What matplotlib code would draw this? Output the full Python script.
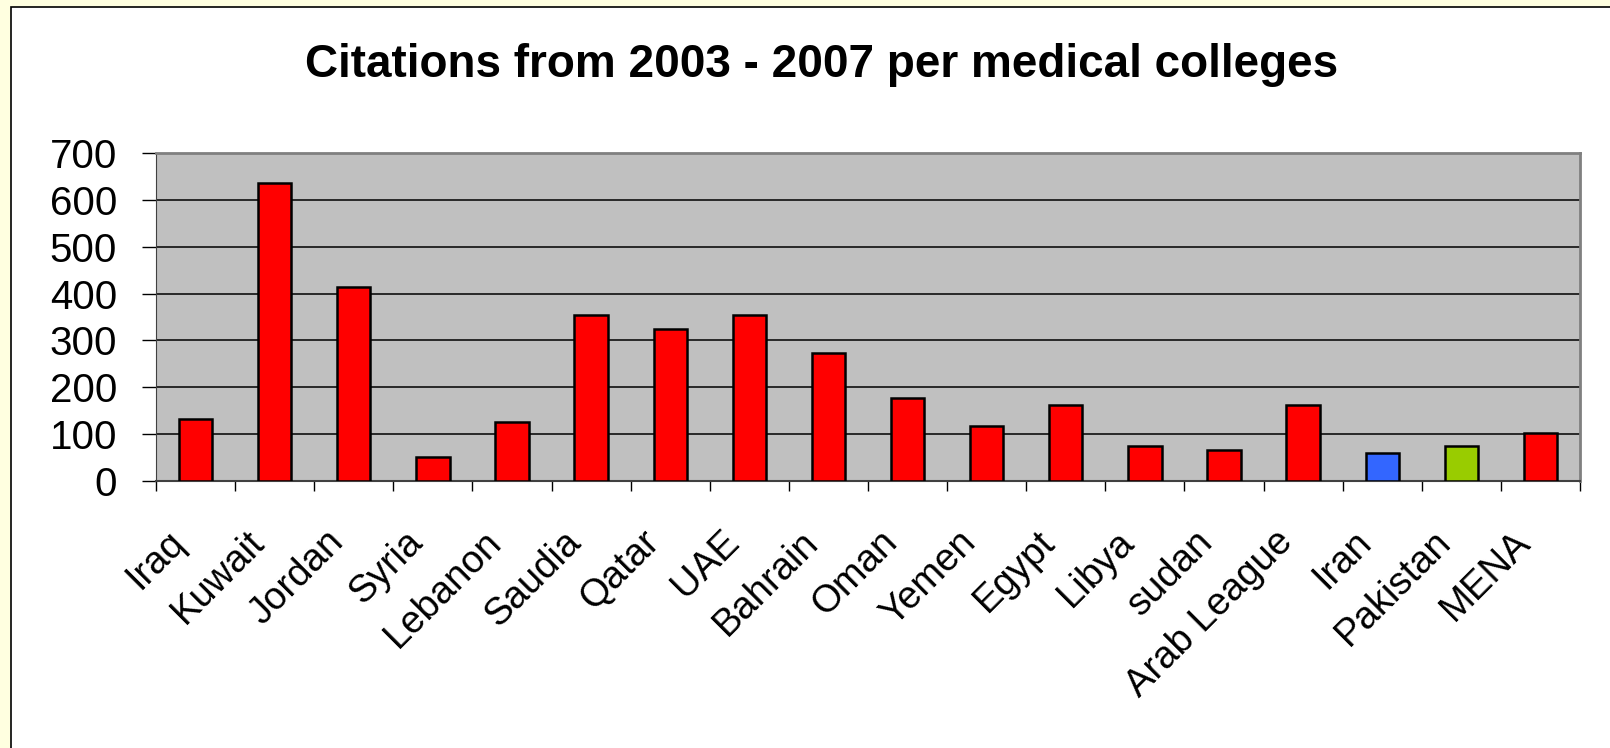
import numpy as np
import matplotlib
matplotlib.use('Agg')
import matplotlib.pyplot as plt
from matplotlib.patches import Rectangle
from matplotlib.transforms import ScaledTranslation

# data
countries = ['Iraq', 'Kuwait', 'Jordan', 'Syria', 'Lebanon', 'Saudia', 'Qatar', 'UAE',
             'Bahrain', 'Oman', 'Yemen', 'Egypt', 'Libya', 'sudan', 'Arab League',
             'Iran', 'Pakistan', 'MENA']
citations = [132, 635, 413, 52, 125, 355, 325, 355, 274, 178, 118, 163, 74, 66, 163, 59, 75, 103]
bar_colors = ['#FF0000'] * 15 + ['#3366FF', '#99CC00', '#FF0000']
yticks = [0, 100, 200, 300, 400, 500, 600, 700]

plt.rcParams['font.family'] = ['Liberation Sans', 'DejaVu Sans']

W, H = 1610, 748
fig = plt.figure(figsize=(W / 100, H / 100), dpi=100, facecolor='#FFFFE0')

# white panel with black border, leaving a yellow strip at top and left
panel = Rectangle((11 / W, -0.01), 1.02, 1 - 7 / H + 0.01, transform=fig.transFigure,
                  facecolor='white', edgecolor='black', linewidth=1.2, zorder=-10)
fig.patches.append(panel)

ax = fig.add_axes([156 / W, 1 - 481 / H, (1580 - 156) / W, (481 - 153) / H])
ax.set_facecolor('#C0C0C0')

x = np.arange(len(countries))
ax.bar(x, citations, width=0.42, color=bar_colors, edgecolor='black', linewidth=1.8, zorder=3)

ax.set_ylim(0, 700)
ax.set_xlim(-0.5, len(countries) - 0.5)
ax.set_yticks(yticks)
ax.yaxis.grid(True, color='black', linewidth=1.1, zorder=1)
ax.set_axisbelow(True)

ax.tick_params(axis='y', direction='out', length=10, width=1, pad=18, labelsize=29)
ax.set_xticks(x)
ax.set_xticklabels(countries)
ax.set_xticks(np.arange(len(countries) + 1) - 0.5, minor=True)
ax.tick_params(axis='x', which='major', length=0, pad=40, labelsize=27.5)
ax.tick_params(axis='x', which='minor', direction='out', length=7, width=1)
shift = ScaledTranslation(-16 / 100, 0, fig.dpi_scale_trans)
for lbl in ax.get_xticklabels():
    lbl.set_rotation(45)
    lbl.set_rotation_mode('anchor')
    lbl.set_ha('right')
    lbl.set_va('center')
    lbl.set_transform(lbl.get_transform() + shift)

for side in ['top', 'right']:
    ax.spines[side].set_color('#808080')
    ax.spines[side].set_linewidth(2)
ax.spines['left'].set_color('#404040')
ax.spines['bottom'].set_color('#404040')
ax.spines['bottom'].set_linewidth(1.5)

fig.text(822 / W, 1 - 77 / H, 'Citations from 2003 - 2007 per medical colleges',
         ha='center', va='baseline', fontsize=33, fontweight='bold')

fig.savefig('out.png', dpi=100, facecolor=fig.get_facecolor())
